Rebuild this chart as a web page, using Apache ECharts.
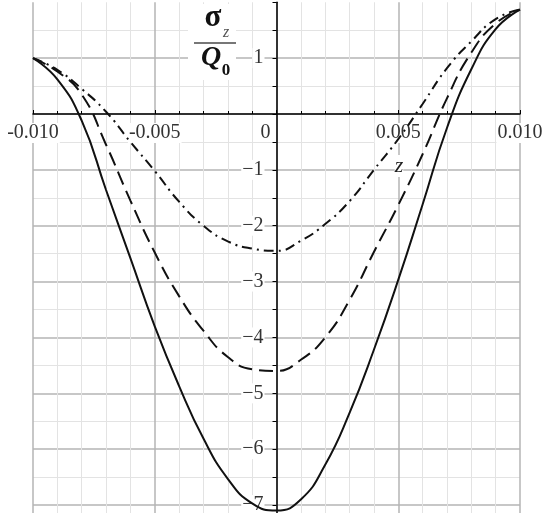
<!DOCTYPE html>
<html>
<head>
<meta charset="utf-8">
<script src="https://cdn.jsdelivr.net/npm/echarts@6/dist/echarts.min.js"></script>
<style>
  html, body { margin: 0; padding: 0; background: #fff; }
  #chart { width: 544px; height: 513px; }
</style>
</head>
<body>
<div id="chart"></div>
<script>
// z positions (m)
const zValues = [-0.010, -0.009, -0.008, -0.007, -0.006, -0.005, -0.004, -0.003, -0.002, -0.001,
  0.000, 0.001, 0.002, 0.003, 0.004, 0.005, 0.006, 0.007, 0.008, 0.009, 0.010];

// sigma_z / Q0 for the three cases
const stressSolid = [1.00, 0.62, -0.12, -1.36, -2.58, -3.80, -4.87, -5.81, -6.53, -6.97,
  -7.10, -6.90, -6.28, -5.35, -4.22, -2.97, -1.62, -0.25, 0.80, 1.52, 1.87];
const stressDashed = [1.00, 0.76, 0.35, -0.55, -1.55, -2.48, -3.26, -3.88, -4.35, -4.57,
  -4.60, -4.40, -4.00, -3.33, -2.47, -1.63, -0.72, 0.28, 1.10, 1.62, 1.87];
const stressDashDot = [1.00, 0.79, 0.45, 0.04, -0.50, -1.02, -1.57, -2.00, -2.28, -2.41,
  -2.45, -2.27, -1.97, -1.56, -1.00, -0.45, 0.18, 0.82, 1.30, 1.70, 1.87];

// axis tick labels
const xTickValues = [-0.010, -0.005, 0, 0.005, 0.010];
const xTickLabels = ['-0.010', '-0.005', '0', '0.005', '0.010'];
const yTickValues = [1, -1, -2, -3, -4, -5, -6, -7];
const yTickLabels = ['1', '\u22121', '\u22122', '\u22123', '\u22124', '\u22125', '\u22126', '\u22127'];

const serif = '"Liberation Serif", "DejaVu Serif", serif';

function pairs(ys) { return zValues.map((z, i) => [z, ys[i]]); }

function xLabel(v) {
  const i = xTickValues.findIndex(t => Math.abs(t - v) < 1e-9);
  if (i < 0) return '';
  // the origin label sits to the left of the vertical axis
  return xTickValues[i] === 0 ? '{o|' + xTickLabels[i] + '}' : '{n|' + xTickLabels[i] + '}';
}
function yLabel(v) {
  const i = yTickValues.findIndex(t => Math.abs(t - v) < 1e-9);
  return i < 0 ? '' : yTickLabels[i];
}

const chart = echarts.init(document.getElementById('chart'), null, { renderer: 'canvas' });

// plot box: x from -0.01 to 0.01, y from -8 to 2 (lower part runs past the canvas)
const gridLeft = 33, gridWidth = 487, gridTop = 2.28, gridHeight = 558.62;
const yMin = -8, yMax = 2;
// move the axes so they cross at the origin
const xAxisOffset = -(gridHeight * (0 - yMin) / (yMax - yMin));
const yAxisOffset = -(gridWidth / 2);

const majorGrid = { color: '#b5b5b5', width: 1.5 };
const minorGrid = { color: '#e3e3e3', width: 1 };
const labelText = { fontFamily: serif, fontSize: 20, color: '#333' };

chart.setOption({
  animation: false,
  backgroundColor: '#fff',
  grid: { left: gridLeft, width: gridWidth, top: gridTop, height: gridHeight,
    containLabel: false, outerBoundsMode: 'none' },
  xAxis: {
    type: 'value', min: -0.01, max: 0.01, interval: 0.005,
    position: 'bottom', offset: xAxisOffset,
    axisLine: { onZero: false, lineStyle: { color: '#000', width: 1.5 } },
    axisTick: { show: true, inside: true, length: 4, lineStyle: { color: '#000' } },
    minorTick: { show: true, splitNumber: 5, length: 3, lineStyle: { color: '#000' } },
    splitLine: { show: true, lineStyle: majorGrid },
    minorSplitLine: { show: true, lineStyle: minorGrid },
    axisLabel: Object.assign({
      formatter: xLabel, showMinLabel: true, showMaxLabel: true, margin: 9,
      rich: {
        n: Object.assign({ backgroundColor: '#fff', padding: [0, 1] }, labelText),
        o: Object.assign({ padding: [0, 22, 0, 0] }, labelText)
      }
    }, labelText)
  },
  yAxis: {
    type: 'value', min: yMin, max: yMax, interval: 1,
    position: 'left', offset: yAxisOffset,
    axisLine: { onZero: false, lineStyle: { color: '#000', width: 1.5 } },
    axisTick: { show: true, length: 4, lineStyle: { color: '#000' } },
    minorTick: { show: true, splitNumber: 2, length: 4, lineStyle: { color: '#000' } },
    splitLine: { show: true, showMaxLine: false, lineStyle: majorGrid },
    minorSplitLine: { show: true, lineStyle: minorGrid },
    axisLabel: Object.assign({
      formatter: yLabel, margin: 12, backgroundColor: '#fff', padding: [0, 1]
    }, labelText)
  },
  series: [
    { type: 'line', data: pairs(stressSolid), showSymbol: false, smooth: 0.5,
      lineStyle: { color: '#111', width: 2, type: 'solid' } },
    { type: 'line', data: pairs(stressDashed), showSymbol: false, smooth: 0.5,
      lineStyle: { color: '#111', width: 2, type: [14, 7] } },
    { type: 'line', data: pairs(stressDashDot), showSymbol: false, smooth: 0.5,
      lineStyle: { color: '#111', width: 2, type: [10, 5, 2, 5] } }
  ],
  graphic: [
    // axis title: sigma_z over Q0
    { type: 'rect', z: 1, shape: { x: 188, y: 4, width: 48, height: 76 }, style: { fill: '#fff' } },
    { type: 'text', z: 2, x: 213, y: 18, style: { text: '\u03c3', font: 'bold 31px ' + serif, fill: '#111', align: 'center', verticalAlign: 'middle' } },
    { type: 'text', z: 2, x: 226, y: 33, style: { text: 'z', font: 'italic 16px ' + serif, fill: '#555', align: 'center', verticalAlign: 'middle' } },
    { type: 'line', z: 2, shape: { x1: 194, y1: 43, x2: 236, y2: 43 }, style: { stroke: '#777', lineWidth: 2 } },
    { type: 'text', z: 2, x: 211, y: 58, style: { text: 'Q', font: 'italic bold 28px ' + serif, fill: '#111', align: 'center', verticalAlign: 'middle' } },
    { type: 'text', z: 2, x: 226, y: 71, style: { text: '0', font: 'bold 17px ' + serif, fill: '#111', align: 'center', verticalAlign: 'middle' } },
    // horizontal axis name
    { type: 'text', z: 1, x: 399, y: 166, style: { text: 'z', font: 'italic 22px ' + serif, fill: '#222', align: 'center', verticalAlign: 'middle', backgroundColor: '#fff' } }
  ]
});
</script>
</body>
</html>
